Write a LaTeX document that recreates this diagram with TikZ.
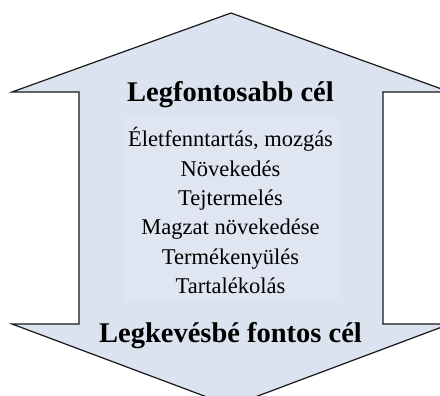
\documentclass[tikz,border=0pt]{standalone}
\usepackage{fontspec}
\setmainfont{Liberation Serif}
\definecolor{arrowfill}{HTML}{DAE3EF}
\definecolor{boxfill}{HTML}{DFE6F1}
\tikzset{
  goaltitle/.style={font=\fontsize{28.5}{30}\selectfont\bfseries, inner sep=0pt, anchor=base},
  goalitem/.style={font=\fontsize{22.5}{26}\selectfont, inner sep=0pt, anchor=base}
}
\begin{document}
\begin{tikzpicture}[x=1pt, y=-1pt]
  \useasboundingbox (0,0) rectangle (440,396);
  \clip (0,0) rectangle (440,396);
  % Double arrow
  \filldraw[fill=arrowfill, draw=black!90, line width=1.2pt, line join=miter]
    (231,13) -- (450,92) -- (383,92) -- (383,324) -- (450,324) --
    (231,406) -- (12,324) -- (79,324) -- (79,92) -- (12,92) -- cycle;
  % Text box behind the list
  \fill[boxfill] (125,117) rectangle (338,302);
  % Labels
  \node[goaltitle] (top) at (230.5,102) {Legfontosabb cél};
  \foreach \lab [count=\i] in {{Életfenntartás, mozgás}, Növekedés, Tejtermelés,
      Magzat növekedése, Termékenyülés, Tartalékolás} {
    \node[goalitem] (item\i) at (230.5,{147+29.3*(\i-1)}) {\lab};
  }
  \node[goaltitle] (bottom) at (230.5,342) {Legkevésbé fontos cél};
\end{tikzpicture}
\end{document}
